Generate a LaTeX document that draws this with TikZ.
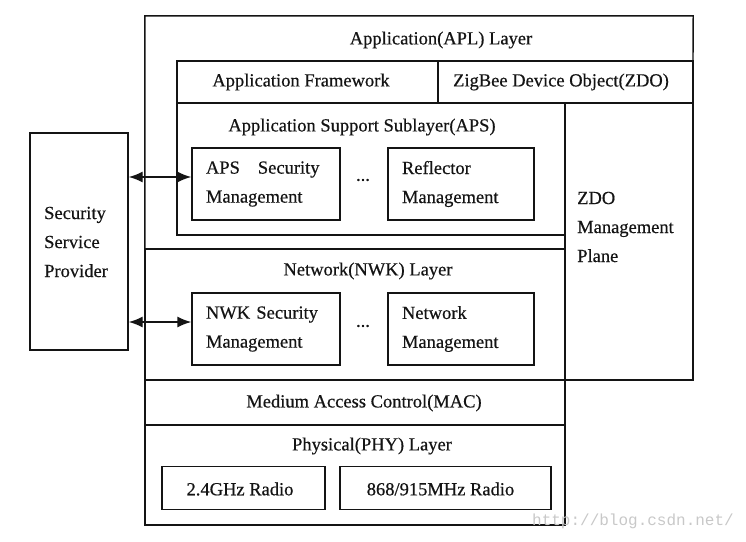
\documentclass[tikz,border=0pt]{standalone}
\usepackage{fontspec}
\setmainfont{Liberation Serif}[FakeBold=0.5]
\setmonofont{Liberation Mono}
\usepackage{tikz}
\usetikzlibrary{arrows.meta, positioning}
\definecolor{linecolor}{RGB}{20,20,20}
\definecolor{markcolor}{RGB}{200,200,200}

\begin{document}
\begin{tikzpicture}[
    x=1pt, y=-1pt,
    every node/.style={font=\fontsize{18.5}{29}\selectfont, text=linecolor},
    layer/.style={draw=linecolor, line width=1.4pt, inner sep=0pt},
    block/.style={draw=linecolor, line width=1.4pt, minimum width=148pt, minimum height=72pt, inner sep=0pt},
    radio/.style={draw=linecolor, line width=1.4pt, minimum height=43pt, inner sep=0pt},
    plain/.style={inner sep=0pt, align=left},
    biarrow/.style={{Latex[length=14pt,width=11pt]}-{Latex[length=14pt,width=11pt]}, line width=1.4pt, linecolor}
]
    \useasboundingbox (0,0) rectangle (746,541);

    % Application layer
    \node[minimum width=548pt, minimum height=233pt, inner sep=0pt] (apl) at (419,132.5) {};
    \draw[linecolor, line width=1.4pt] (apl.south west) |- (apl.north east) -- (693,61);
    \node[plain] (apltitle) at (441,40) {Application(APL) Layer};
    \node[layer, minimum width=261pt, minimum height=42pt] (af) at (307.5,82) {};
    \node[layer, minimum width=255pt, minimum height=42pt] (zdo) at (565.5,82) {};
    \node[plain] (aftext) at (301,82) {Application Framework};
    \node[plain] (zdotitle) at (561,82) {ZigBee Device Object(ZDO)};

    % APS sublayer
    \node[layer, minimum width=388pt, minimum height=132pt] (aps) at (371,169) {};
    \node[plain] (apstitle) at (362,127) {Application Support Sublayer(APS)};
    \node[block, text width=120pt, align=left] (apssec) at (266,184) {APS\hspace{18pt}Security\\Management};
    \node[plain] (apsdots) at (363,180) {...};
    \node[block, minimum width=146pt, text width=118pt, align=left] (reflector) at (461,184) {Reflector\\Management};

    % ZDO management plane
    \node[layer, minimum width=128pt, minimum height=277pt] (zdoplane) at (629,241.5) {};
    \node[plain, anchor=west] (zdotext) at (577,227) {ZDO\\Management\\Plane};

    % Network layer
    \node[layer, minimum width=420pt, minimum height=131pt] (nwk) at (355,314.5) {};
    \node[plain] (nwktitle) at (368,271) {Network(NWK) Layer};
    \node[block, text width=120pt, align=left] (nwksec) at (266,329) {NWK Security\\Management};
    \node[plain] (nwkdots) at (363,326) {...};
    \node[block, minimum width=146pt, text width=118pt, align=left] (netmgmt) at (461,329) {Network\\Management};

    % MAC and PHY
    \node[layer, minimum width=420pt, minimum height=45pt] (mac) at (355,402.5) {};
    \node[plain] (mactext) at (364,403) {Medium Access Control(MAC)};
    \node[layer, minimum width=420pt, minimum height=100pt] (phy) at (355,475) {};
    \node[plain] (phytitle) at (372,446) {Physical(PHY) Layer};
    \node[radio, minimum width=163pt] (radioa) at (243.5,488) {};
    \node[radio, minimum width=211pt] (radiob) at (445.5,488) {};
    \node[plain] (radioatext) at (240,489) {2.4GHz Radio};
    \node[plain] (radiobtext) at (440.5,489) {868/915MHz Radio};

    % Security service provider
    \node[layer, minimum width=98pt, minimum height=217pt] (ssp) at (79,241.5) {};
    \node[plain, anchor=west] (ssptext) at (44,242) {Security\\Service\\Provider};

    % Connections
    \coordinate (apsport) at ([yshift=7pt]apssec.west);
    \coordinate (nwkport) at ([yshift=7pt]nwksec.west);
    \draw[biarrow] (ssp.east |- apsport) -- (apsport);
    \draw[biarrow] (ssp.east |- nwkport) -- (nwkport);

    % watermark
    \node[plain, font=\ttfamily\fontsize{16}{18}\selectfont, text=markcolor] (mark) at (633,521) {http://blog.csdn.net/};
\end{tikzpicture}
\end{document}
